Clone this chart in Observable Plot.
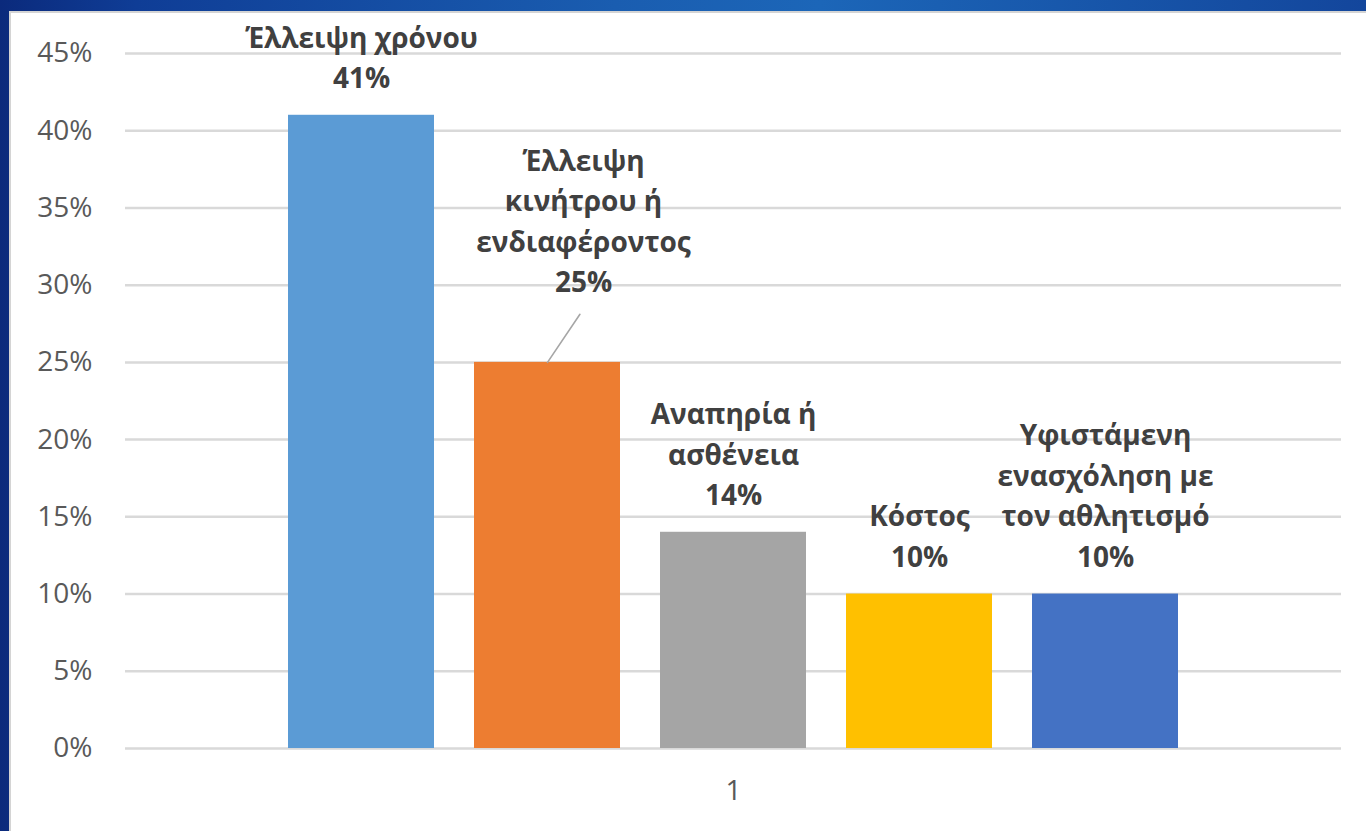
<!DOCTYPE html>
<html>
<head>
<meta charset="utf-8">
<script src="https://cdn.jsdelivr.net/npm/d3@7"></script>
<script src="https://cdn.jsdelivr.net/npm/@observablehq/plot@0.6"></script>
<style>
  html, body { margin: 0; padding: 0; width: 1366px; height: 831px; overflow: hidden; }
  body { background: linear-gradient(90deg, #0b2a7c 0px, #0f3d96 10%, #1a5db0 45%, #1c66b8 60%, #13469c 100%); }
  #panel { position: absolute; left: 9px; top: 11px; width: 1357px; height: 820px; background: #fff;
           border-left: 2px solid #d4d4d4; border-top: 2px solid #d4d4d4; box-sizing: border-box; }
  #chart { position: absolute; left: 0; top: 0; }
</style>
</head>
<body>
<div id="panel"><div id="chart"></div></div>
<script>
const groups = ["1"];
const categories = [
  "Έλλειψη χρόνου",
  "Έλλειψη κινήτρου ή ενδιαφέροντος",
  "Αναπηρία ή ασθένεια",
  "Κόστος",
  "Υφιστάμενη ενασχόληση με τον αθλητισμό"
];
const labelLines = [
  "Έλλειψη χρόνου",
  "Έλλειψη\nκινήτρου ή\nενδιαφέροντος",
  "Αναπηρία ή\nασθένεια",
  "Κόστος",
  "Υφιστάμενη\nενασχόληση με\nτον αθλητισμό"
];
const values = [0.41, 0.25, 0.14, 0.10, 0.10];
const colors = ["#5B9BD5", "#ED7D31", "#A5A5A5", "#FFC000", "#4472C4"];
const yTicks = [0, 0.05, 0.10, 0.15, 0.20, 0.25, 0.30, 0.35, 0.40, 0.45];

const data = categories.map((c, i) => ({group: groups[0], category: c, label: labelLines[i], value: values[i]}));
const pct = d3.format(".0%");
const font = "'Open Sans', sans-serif";

const leader = {draw(context, l) { context.moveTo(0, 0); context.lineTo(0, -l); }};

const chart = Plot.plot({
  width: 1355,
  height: 818,
  marginLeft: 114,
  marginRight: 25,
  marginTop: 40,
  marginBottom: 83,
  style: {fontFamily: font, background: "white", overflow: "visible"},
  fx: {domain: groups, padding: 0, label: null},
  x: {domain: categories, paddingInner: 0.215, paddingOuter: 0.87, axis: null},
  y: {domain: [0, 0.45], axis: null},
  color: {domain: categories, range: colors},
  marks: [
    Plot.gridY(yTicks, {stroke: "#d9d9d9", strokeWidth: 2.5, strokeOpacity: 1}),
    Plot.axisY(yTicks, {tickSize: 0, tickPadding: 33, tickFormat: pct, fontSize: 28, fill: "#595959", label: null}),
    Plot.axisFx({anchor: "bottom", tickSize: 0, tickPadding: 32, fontSize: 28, fill: "#595959", label: null}),
    Plot.barY(data, {fx: "group", x: "category", y: "value", fill: "category"}),
    Plot.vector(data.filter((d, i) => i === 1), {fx: "group", x: "category", y: "value", anchor: "start",
      length: 58, rotate: 34, shape: leader, stroke: "#a6a6a6", strokeWidth: 1.6}),
    Plot.text(data.filter((d, i) => i !== 1), {fx: "group", x: "category", y: "value",
      text: d => `${d.label}\n${pct(d.value)}`, lineAnchor: "bottom", dy: -27, lineHeight: 1.45,
      fontSize: 28, fontWeight: "bold", fill: "#404040"}),
    Plot.text(data.filter((d, i) => i === 1), {fx: "group", x: "category", y: "value",
      text: d => `${d.label}\n${pct(d.value)}`, lineAnchor: "bottom", dx: 36, dy: -70, lineHeight: 1.45,
      fontSize: 28, fontWeight: "bold", fill: "#404040"})
  ]
});
document.getElementById("chart").appendChild(chart);
</script>
</body>
</html>
